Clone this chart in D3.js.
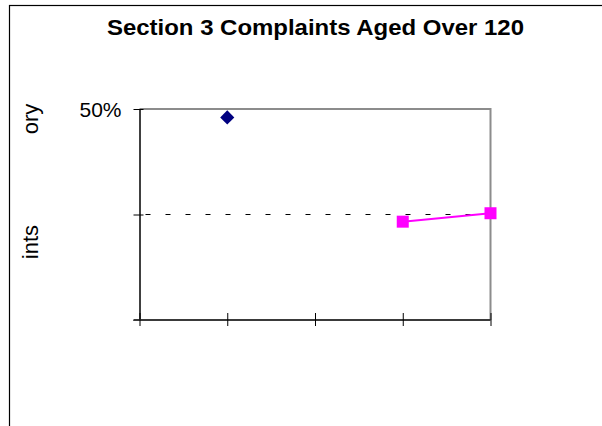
<!DOCTYPE html>
<html>
<head>
<meta charset="utf-8">
<script src="https://cdn.jsdelivr.net/npm/d3@7"></script>
<style>
  html, body { margin: 0; padding: 0; background: #fff; }
  svg { display: block; font-family: "Liberation Sans", Arial, sans-serif; }
</style>
</head>
<body>
<svg id="chart" width="602" height="426"></svg>
<script>
// Reporting periods along the category axis (labels are not shown on the chart)
const categories = ["P1", "P2", "P3", "P4", "P5"];
// Share of complaints aged over 120 days, in percent
const earlierValues = [null, 48.0, null, null, null];
const currentValues = [null, null, null, 23.3, 25.3];
// Target level drawn as a dashed reference line
const targetValue = 25;
// Value axis ticks and their labels
const yTickValues = [0, 25, 50];
const yTickLabels = ["", "", "50%"];
const chartTitle = "Section 3 Complaints Aged Over 120";
const axisTitleParts = ["ory", "ints"];

const svg = d3.select("#chart");

// Outer chart frame, running past the window edges
svg.append("rect")
  .attr("x", 9.5).attr("y", 5.5)
  .attr("width", 700).attr("height", 500)
  .attr("fill", "#fff").attr("stroke", "#000").attr("stroke-width", 1.2);

const plot = { left: 139.5, right: 490.5, top: 109, bottom: 320 };

const x = d3.scalePoint().domain(categories).range([plot.left, plot.right]);
const y = d3.scaleLinear().domain([0, 50]).range([plot.bottom, plot.top]);

// Title
svg.append("text")
  .attr("x", 315.5).attr("y", 35)
  .attr("text-anchor", "middle")
  .attr("font-size", 22).attr("font-weight", "bold")
  .attr("textLength", 417).attr("lengthAdjust", "spacingAndGlyphs")
  .text(chartTitle);

// Plot area border (top and right edges)
svg.append("path")
  .attr("d", `M${plot.left},${plot.top}H${plot.right}V${plot.bottom}`)
  .attr("fill", "none").attr("stroke", "#8c8c8c").attr("stroke-width", 2);

// Target reference line
svg.append("line")
  .attr("x1", plot.left).attr("x2", plot.right)
  .attr("y1", y(targetValue)).attr("y2", y(targetValue))
  .attr("stroke", "#000").attr("stroke-width", 1.2)
  .attr("stroke-dasharray", "5,15").attr("stroke-dashoffset", -6);

// Value axis
const yAxis = d3.axisLeft(y)
  .tickValues(yTickValues)
  .tickFormat((d, i) => yTickLabels[i])
  .tickSizeInner(6).tickSizeOuter(0).tickPadding(12);
const yg = svg.append("g").attr("transform", `translate(${plot.left},0)`).call(yAxis);
yg.select(".domain").attr("stroke", "#000").attr("stroke-width", 1.5);
yg.selectAll(".tick line").attr("stroke", "#000").attr("x2", -6).attr("x1", 4);
yg.selectAll(".tick text")
  .attr("font-size", 21).attr("fill", "#000")
  .attr("font-family", "Liberation Sans, Arial, sans-serif")
  .attr("x", -18).attr("dy", "0.36em");

// Category axis
const xAxis = d3.axisBottom(x).tickFormat(() => "").tickSizeInner(6).tickSizeOuter(0);
const xg = svg.append("g").attr("transform", `translate(0,${plot.bottom})`).call(xAxis);
xg.select(".domain").attr("stroke", "#3a3a3a").attr("stroke-width", 2.2)
  .attr("d", `M${plot.left - 6},0H${plot.right}`);
xg.selectAll(".tick line").attr("stroke", "#000").attr("y1", -7).attr("y2", 6);

// Axis title fragments
axisTitleParts.forEach((t, i) => {
  const cy = i === 0 ? 119 : 242;
  svg.append("text")
    .attr("transform", `translate(38,${cy}) rotate(-90)`)
    .attr("text-anchor", "middle")
    .attr("font-size", 22)
    .text(t);
});

// Current series: magenta line with square markers
const pts = categories.map((c, i) => ({ c, v: currentValues[i] })).filter(d => d.v != null);
svg.append("path")
  .datum(pts)
  .attr("fill", "none").attr("stroke", "#ff00ff").attr("stroke-width", 2)
  .attr("d", d3.line().x(d => x(d.c)).y(d => y(d.v)));
svg.selectAll("path.sq").data(pts).join("path")
  .attr("class", "sq")
  .attr("transform", d => `translate(${x(d.c)},${y(d.v)})`)
  .attr("d", d3.symbol(d3.symbolSquare, 144))
  .attr("fill", "#ff00ff");

// Earlier series: navy diamond markers
const dpts = categories.map((c, i) => ({ c, v: earlierValues[i] })).filter(d => d.v != null);
svg.selectAll("path.dm").data(dpts).join("path")
  .attr("class", "dm")
  .attr("transform", d => `translate(${x(d.c)},${y(d.v)}) rotate(45)`)
  .attr("d", d3.symbol(d3.symbolSquare, 100))
  .attr("fill", "#000080");
</script>
</body>
</html>
